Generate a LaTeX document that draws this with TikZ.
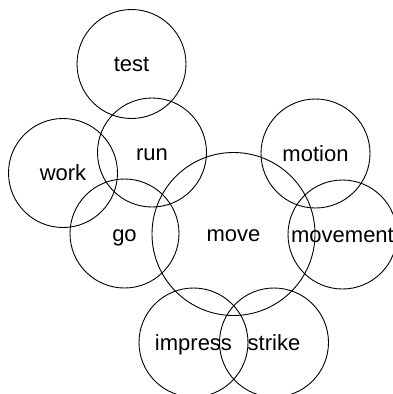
\documentclass[tikz,border=0pt]{standalone}
\usepackage{fontspec}
\setmainfont{Liberation Sans}
\begin{document}
\begin{tikzpicture}[x=1pt,y=-1pt,
  word/.style={circle,draw,line width=0.9pt,minimum size=109pt,inner sep=0pt,
    font=\fontsize{22}{26}\selectfont,text height=15.8pt,text depth=0pt},
  big/.style={word,minimum size=163pt}]
\useasboundingbox (0,0) rectangle (393,394);
\node[word] (test) at (131.5,64) {test};
\node[word] (run) at (152,152.5) {run};
\node[word] (work) at (63,173) {work};
\node[word] (go) at (124.5,233.5) {go};
\node[big] (move) at (233.5,234) {move};
\node[word] (motion) at (315.5,153.5) {motion};
\node[word] (movement) at (342.5,234.5) {movement};
\node[word] (impress) at (193.5,342.5) {impress};
\node[word] (strike) at (274,342.5) {strike};
\end{tikzpicture}
\end{document}
